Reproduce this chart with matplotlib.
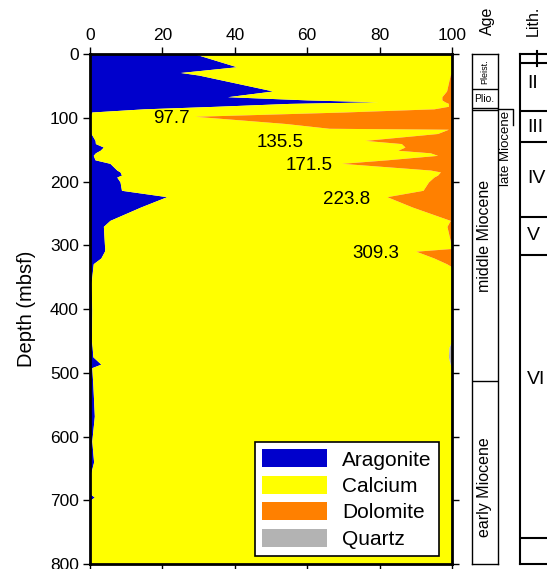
import numpy as np
import matplotlib
matplotlib.use("Agg")
import matplotlib.pyplot as plt
from matplotlib.patches import Patch

plt.rcParams['font.family'] = ['Liberation Sans', 'DejaVu Sans']

# ---------------- data (percent, by depth in mbsf) ----------------
depth = [0, 20, 29, 33, 58, 67, 72, 75, 77.5, 82, 86, 91, 97.7, 109, 116.5, 118,
         124.7, 135.5, 140.5, 146, 151, 155, 159, 166, 171.5, 182, 185, 190, 193,
         200.7, 213.8, 223.8, 240, 261, 270.4, 300, 305, 309.3, 320, 329, 334, 360,
         400, 450, 460, 475, 486.5, 492, 520, 568, 607, 640, 660, 690, 695, 700, 800]
aragonite = [29, 40.5, 25, 30, 50.5, 38, 60, 79.6, 55, 35, 15, 0.5, 0, 0, 0, 0.2,
             0.3, 1.4, 1.5, 3.7, 2.8, 1.5, 0.9, 1.4, 5.5, 7.4, 8.3, 8.7, 7.4,
             8.3, 8.7, 21.2, 14, 5.5, 3.7, 4, 4.1, 4, 3, 0.9, 0.8, 0.3,
             0.5, 0.4, 0.6, 0.8, 3, 0.5, 0.8, 1.2, 0.5, 1.0, 0.1, 0, 1.2, 0, 0]
dolomite = [0, 0, 0, 0.5, 1.5, 2.8, 2.8, 2, 1, 1, 5, 30, 71, 46, 34, 1,
            4, 24, 14, 13, 15, 6, 4, 18, 30.5, 6, 3.2, 4, 5,
            6.5, 8, 18, 11, 0.5, 1.4, 0.2, 0, 10, 5, 1.5, 0, 0,
            0, 0, 0, 0, 0, 0, 0, 0, 0, 0, 0, 0, 0, 0, 0]
quartz = [0, 0, 0, 0, 0, 0, 0, 0, 0, 0, 0, 0, 0, 0, 0, 0,
          0, 0, 0, 0, 0, 0, 0, 0, 0, 0, 0, 0, 0,
          0, 0, 0, 0, 0, 0, 0, 0, 0, 0, 0, 0, 0,
          0, 0.1, 0.8, 1.0, 0.5, 0, 0, 0, 0, 0, 0, 0, 0, 0, 0]
calcium = [71, 59.5, 75, 69.5, 48, 59.2, 37.2, 18.4, 44, 64, 80, 69.5, 29, 54, 66, 98.8,
           95.7, 74.6, 84.5, 83.3, 82.2, 92.5, 95.1, 80.6, 64, 86.6, 88.5, 87.3, 87.6,
           85.2, 83.3, 60.8, 75, 94, 94.9, 95.8, 95.9, 86, 92, 97.6, 99.2, 99.7,
           99.5, 99.5, 98.6, 98.2, 96.5, 99.5, 99.2, 98.8, 99.5, 99, 99.9, 100, 98.8, 100, 100]

series_names = ["Aragonite", "Calcium", "Dolomite", "Quartz"]
series_colors = ["#0000CC", "#FFFF00", "#FF8000", "#B3B3B3"]

spike_depths = [97.7, 135.5, 171.5, 223.8, 309.3]
spike_label_x = [22.5, 52.6, 60.6, 71.0, 79.0]

x_ticks = [0, 20, 40, 60, 80, 100]
y_ticks = [0, 100, 200, 300, 400, 500, 600, 700, 800]

age_names = ["Pleist.", "Plio.", "late Miocene", "middle Miocene", "early Miocene"]
age_bounds = [0, 55, 85, 88, 513, 800]
lith_names = ["I", "II", "III", "IV", "V", "VI"]
lith_bounds = [0, 13.6, 89, 138, 255, 316, 759]

# ---------------- figure ----------------
W, H = 547, 569
fig = plt.figure(figsize=(W / 100, H / 100), dpi=100)

def fx(px):
    return px / W

def fy(py):
    return 1 - py / H

top_px, bot_px = 54, 564
ax = fig.add_axes([fx(90), fy(bot_px), (452 - 90) / W, (bot_px - top_px) / H])

d = np.array(depth, dtype=float)
vals = [np.array(v, dtype=float) for v in (aragonite, calcium, dolomite, quartz)]
left = np.zeros_like(d)
for v, c in zip(vals, series_colors):
    right = left + v
    ax.fill_betweenx(d, left, right, color=c, lw=0)
    left = right

ax.set_xlim(0, 100)
ax.set_ylim(800, 0)
ax.set_xticks(x_ticks)
ax.set_yticks(y_ticks)
ax.xaxis.tick_top()
ax.tick_params(axis='both', which='both', direction='out', length=5, width=1,
               labelsize=12.5, top=True, bottom=True, left=True, right=True,
               labeltop=True, labelbottom=False, pad=3)
for s in ax.spines.values():
    s.set_linewidth(2)
ax.set_ylabel("Depth (mbsf)", fontsize=14.5, labelpad=10)

for dep, lx in zip(spike_depths, spike_label_x):
    ax.text(lx, dep + 4, f"{dep:.1f}", fontsize=13.5, ha='center', va='center')

handles = [Patch(facecolor=c, edgecolor='none', label=n) for n, c in zip(series_names, series_colors)]
leg = ax.legend(handles=handles, loc='lower right', bbox_to_anchor=(0.964, 0.0157),
                borderaxespad=0, fancybox=False, edgecolor='black', framealpha=1,
                fontsize=15, handlelength=3.1, handleheight=0.95, labelspacing=0.3,
                handletextpad=0.75, borderpad=0.35)
leg.get_frame().set_linewidth(1.2)

# ---------------- Age column ----------------
axa = fig.add_axes([fx(471.5), fy(bot_px), 26 / W, (bot_px - top_px) / H])
axa.set_xlim(0, 1)
axa.set_ylim(800, 0)
axa.set_xticks([])
axa.set_yticks([])
for s in axa.spines.values():
    s.set_linewidth(1)
for b in age_bounds[1:-1]:
    axa.axhline(b, color='black', lw=1)
axa.text(0.5, (age_bounds[0] + age_bounds[1]) / 2, age_names[0], rotation=90,
         ha='center', va='center', fontsize=6.5)
axa.text(0.5, (age_bounds[1] + age_bounds[2]) / 2, age_names[1],
         ha='center', va='center', fontsize=7.5)
# late Miocene bracket
axa.plot([1, 1.6, 1.6], [87, 87, 112], color='black', lw=1, clip_on=False)
axa.text(1.33, 90, age_names[2], rotation=90, ha='center', va='top', fontsize=9.5)
axa.text(0.5, 285, age_names[3], rotation=90, ha='center', va='center', fontsize=11.5)
axa.text(0.5, 680, age_names[4], rotation=90, ha='center', va='center', fontsize=11.5)
fig.text(fx(487), fy(21), "Age", rotation=90, ha='center', va='center', fontsize=11.5)

# ---------------- Lithology column ----------------
axl = fig.add_axes([fx(520), fy(bot_px), 60 / W, (bot_px - top_px) / H])
axl.set_xlim(0, 1)
axl.set_ylim(800, 0)
axl.set_xticks([])
axl.set_yticks([])
for s in axl.spines.values():
    s.set_linewidth(1.5)
for b in lith_bounds[1:]:
    axl.axhline(b, color='black', lw=1.5)
# tiny unit I marker
axl.plot([0.28, 0.28], [-4, 19], color='black', lw=1.5, clip_on=False)
lith_label_y = [None, 46, 116, 195, 285, 511]
for name, yy in zip(lith_names[1:], lith_label_y[1:]):
    axl.text(0.12, yy, name, ha='left', va='center', fontsize=14)
fig.text(fx(533), fy(21), "Lith.", rotation=90, ha='center', va='center', fontsize=11.5)

fig.savefig("out.png", dpi=100)
